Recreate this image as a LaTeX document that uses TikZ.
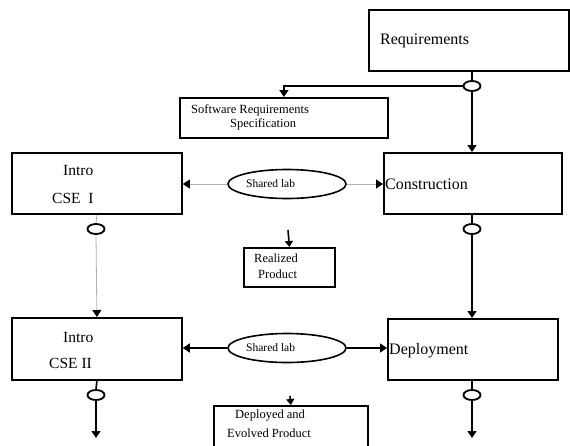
\documentclass[tikz,border=0pt]{standalone}
\usepackage{fontspec}
\setmainfont{Liberation Serif}
\usetikzlibrary{arrows.meta,shapes.geometric}
\definecolor{lgray}{HTML}{B0B0B0}
\begin{document}
\begin{tikzpicture}[x=1pt,y=-1pt,
  box/.style={draw,line width=1.8pt,rectangle,inner sep=0pt,anchor=north west},
  lab/.style={draw,ellipse,line width=1.6pt,inner sep=0pt,minimum width=118pt,minimum height=29pt},
  ring/.style={draw,ellipse,line width=1.8pt,fill=white,inner sep=0pt,minimum width=17pt,minimum height=10pt},
  txt/.style={inner sep=0pt,anchor=west},
  bigtxt/.style={txt,font=\fontsize{16}{19}\selectfont},
  midtxt/.style={txt,font=\fontsize{15.5}{18}\selectfont},
  smalltxt/.style={txt,font=\fontsize{12.5}{15}\selectfont},
  labtxt/.style={txt,font=\fontsize{11.5}{13}\selectfont},
  conn/.style={line width=1.6pt,-{Triangle[width=9pt,length=7pt]}},
  plain/.style={line width=1.6pt},
  gconn/.style={line width=0.8pt,lgray,-{Triangle[width=9pt,length=7pt,color=black]}},
  gplain/.style={line width=0.8pt,lgray},
  sconn/.style={line width=1.6pt,-{Triangle[width=8pt,length=6pt]}}
]
\useasboundingbox (0,0) rectangle (570,445);
\clip (0,0) rectangle (570,445);

% boxes
\node[box,minimum width=200pt,minimum height=61pt] (req) at (368,9) {};
\node[box,minimum width=208pt,minimum height=40pt] (srs) at (179,97) {};
\node[box,minimum width=178pt,minimum height=61pt] (cons) at (383,152) {};
\node[box,minimum width=170pt,minimum height=61pt] (intro1) at (11,152) {};
\node[box,minimum width=91pt,minimum height=39pt] (real) at (243,247) {};
\node[box,minimum width=170pt,minimum height=62pt] (intro2) at (11,317) {};
\node[box,minimum width=170pt,minimum height=61pt] (dep) at (387,318) {};
\node[box,minimum width=154pt,minimum height=50pt] (devo) at (213,405) {};

% shared lab ellipses
\node[lab] (lab1) at (287,184) {};
\node[lab] (lab2) at (287,348) {};

% small rings
\node[ring] (c1) at (472,86) {};
\node[ring] (c2) at (96,229) {};
\node[ring] (c3) at (472,229) {};
\node[ring] (c4) at (96,395) {};
\node[ring] (c5) at (472,395) {};

% free ends
\coordinate (e1) at (96,438);
\coordinate (e2) at (472,438);
\coordinate (s1) at (288,230);
\coordinate (s2) at (290,396);

% texts
\node[bigtxt] (treq) at (380,41) {Requirements};
\node[smalltxt] (tsrs1) at (191,110) {Software Requirements};
\node[smalltxt] (tsrs2) at (230,124) {Specification};
\node[bigtxt] (tcons) at (385,184) {Construction};
\node[midtxt] (ti1a) at (63,170) {Intro};
\node[midtxt] (ti1b) at (52,198) {CSE\ \ I};
\node[labtxt] (tl1) at (246,184) {Shared lab};
\node[smalltxt] (tr1) at (254,258) {Realized};
\node[smalltxt] (tr2) at (258,274) {Product};
\node[midtxt] (ti2a) at (63,337) {Intro};
\node[midtxt] (ti2b) at (49,363) {CSE II};
\node[labtxt] (tl2) at (246,348) {Shared lab};
\node[bigtxt] (tdep) at (389,351) {Deployment};
\node[smalltxt] (td1) at (235,416) {Deployed and};
\node[smalltxt] (td2) at (227,433) {Evolved Product};

% connectors
\draw[plain] (c1 |- req.south) -- (c1.north);
\draw[conn] (c1.south) -- (c1 |- cons.north);
\draw[conn] (c1.west) -| (srs.north);

\draw[gplain] (intro1.south) -- (c2.north);
\draw[gconn] (c2.south) -- (intro2.north);

\draw[gconn] (lab1.west) -- (lab1.west -| intro1.east);
\draw[gconn] (lab1.east) -- (lab1.east -| cons.west);

\draw[sconn] (s1) -- (real.north);

\draw[plain] (c3 |- cons.south) -- (c3.north);
\draw[conn] (c3.south) -- (c3 |- dep.north);

\draw[conn] (lab2.west) -- (lab2.west -| intro2.east);
\draw[conn] (lab2.east) -- (lab2.east -| dep.west);

\draw[plain] (intro2.south) -- (c4.north);
\draw[conn] (c4.south) -- (e1);
\draw[plain] (c5 |- dep.south) -- (c5.north);
\draw[conn] (c5.south) -- (e2);

\draw[sconn] (s2) -- (devo.north);
\end{tikzpicture}
\end{document}
